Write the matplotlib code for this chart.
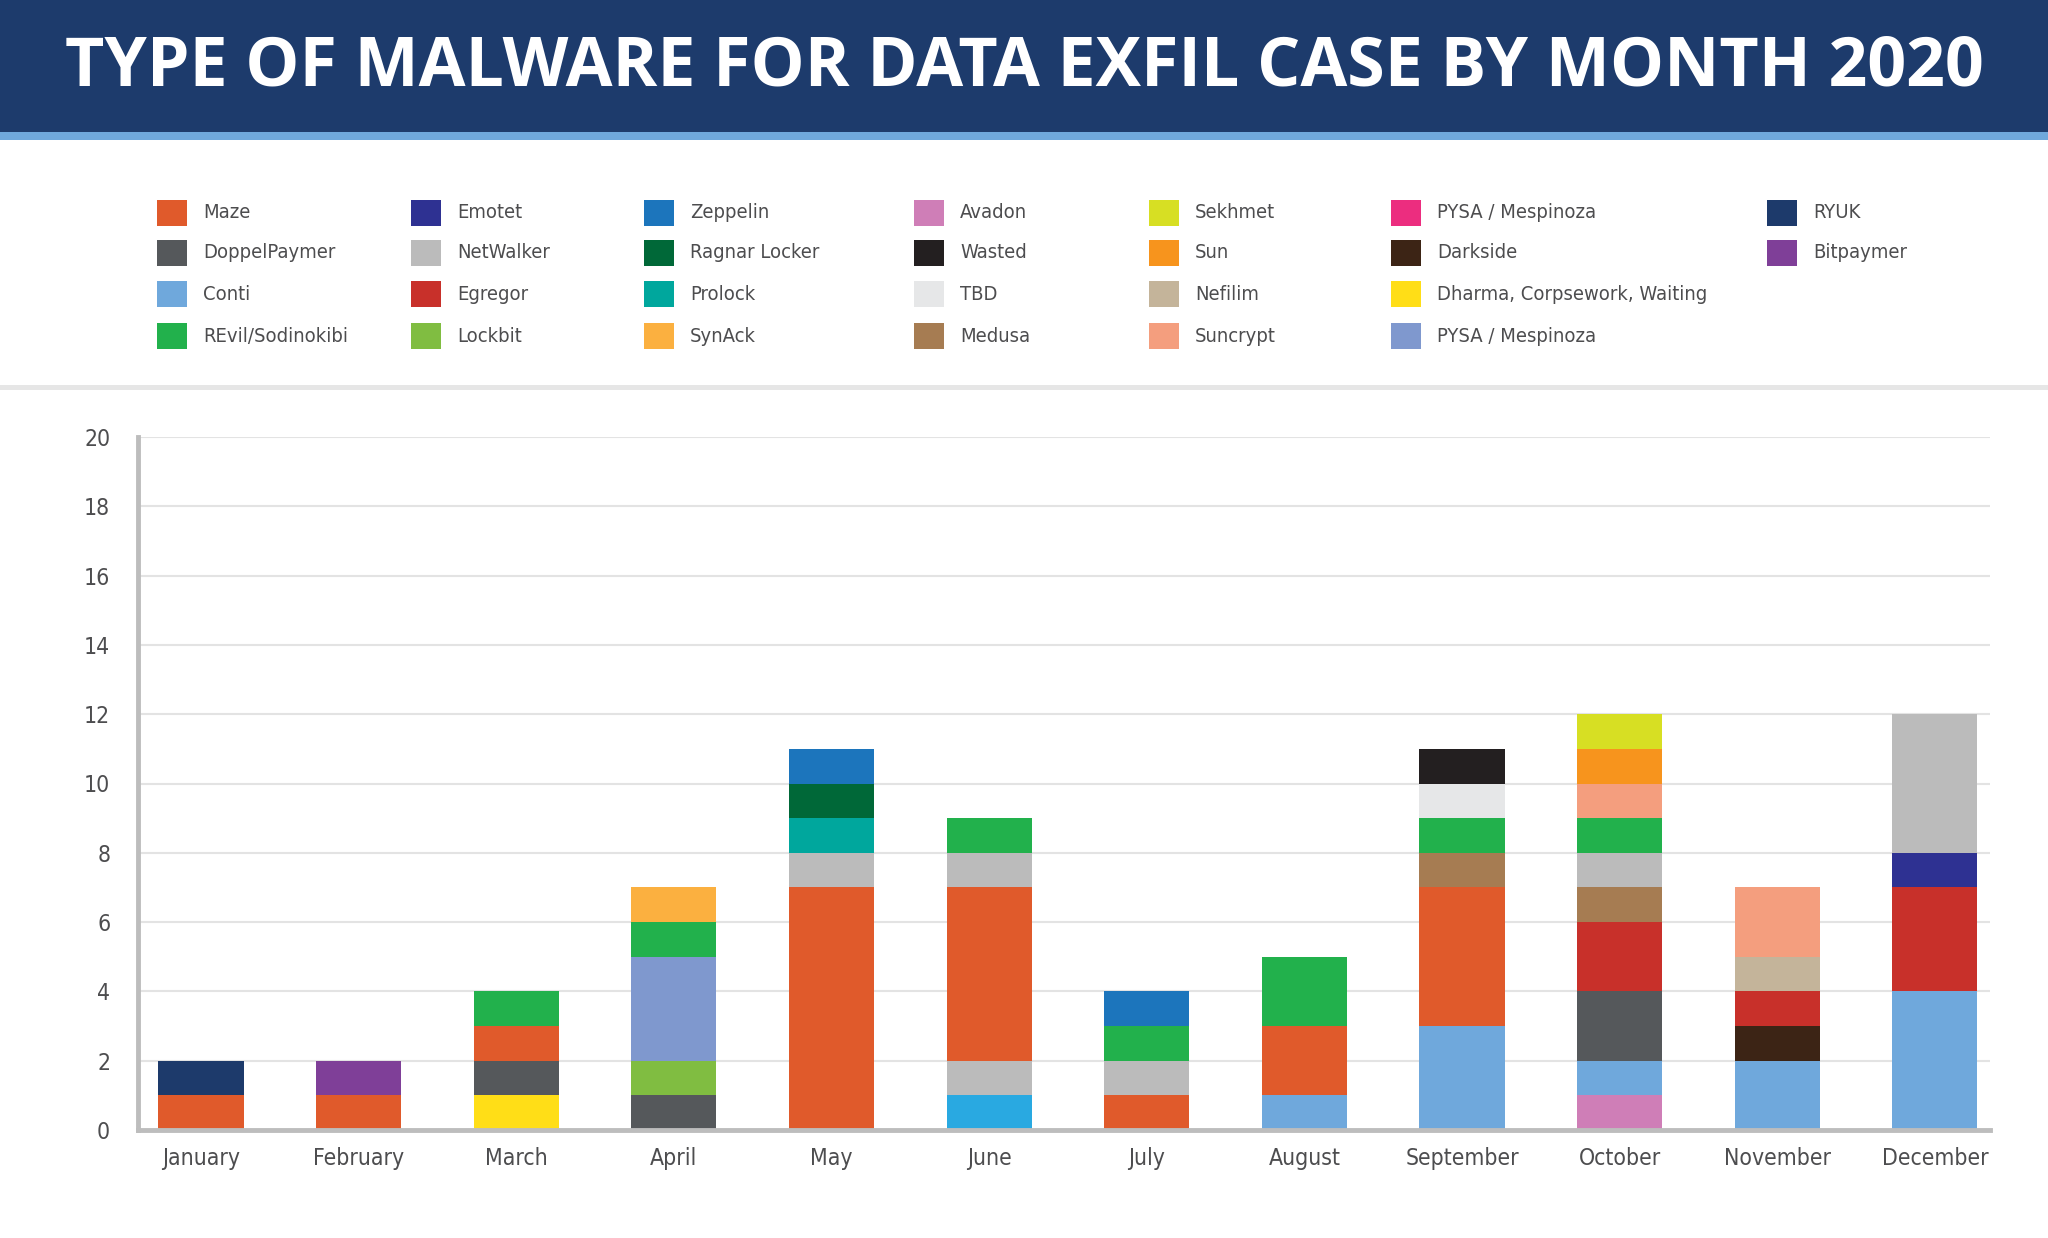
import matplotlib.pyplot as plt
from matplotlib.patches import Rectangle
from matplotlib import font_manager

# malware types (legend order, column by column) and their colours
malware = ["Maze", "DoppelPaymer", "Conti", "REvil/Sodinokibi",
           "Emotet", "NetWalker", "Egregor", "Lockbit",
           "Zeppelin", "Ragnar Locker", "Prolock", "SynAck",
           "Avadon", "Wasted", "TBD", "Medusa",
           "Sekhmet", "Sun", "Nefilim", "Suncrypt",
           "PYSA / Mespinoza", "Darkside", "Dharma, Corpsework, Waiting", "PYSA / Mespinoza ",
           "RYUK", "Bitpaymer"]
colors = ["#E05A2B", "#55585B", "#6FA8DC", "#22B14C",
          "#2E3192", "#BBBBBB", "#C8302A", "#80BD41",
          "#1C75BC", "#006838", "#00A79D", "#FBB040",
          "#CF7EB7", "#231F20", "#E6E7E8", "#A67C52",
          "#D7DF23", "#F7941D", "#C4B49A", "#F49E7E",
          "#EC2D7F", "#3C2415", "#FFDE17", "#7F98CE",
          "#1D3A6B", "#7F3F98"]
# one segment in June has a colour that is not in the legend
extra_name = "unlisted"
extra_color = "#29A9E1"

months = ["January", "February", "March", "April", "May", "June",
          "July", "August", "September", "October", "November", "December"]

# stacks, bottom to top: (malware, cases)
jan = [("Maze", 1), ("RYUK", 1)]
feb = [("Maze", 1), ("Bitpaymer", 1)]
mar = [("Dharma, Corpsework, Waiting", 1), ("DoppelPaymer", 1), ("Maze", 1), ("REvil/Sodinokibi", 1)]
apr = [("DoppelPaymer", 1), ("Lockbit", 1), ("PYSA / Mespinoza ", 3), ("REvil/Sodinokibi", 1), ("SynAck", 1)]
may = [("Maze", 7), ("NetWalker", 1), ("Prolock", 1), ("Ragnar Locker", 1), ("Zeppelin", 1)]
jun = [("unlisted", 1), ("NetWalker", 1), ("Maze", 5), ("NetWalker", 1), ("REvil/Sodinokibi", 1)]
jul = [("Maze", 1), ("NetWalker", 1), ("REvil/Sodinokibi", 1), ("Zeppelin", 1)]
aug = [("Conti", 1), ("Maze", 2), ("REvil/Sodinokibi", 2)]
sep = [("Conti", 3), ("Maze", 4), ("Medusa", 1), ("REvil/Sodinokibi", 1), ("TBD", 1), ("Wasted", 1)]
oct_ = [("Avadon", 1), ("Conti", 1), ("DoppelPaymer", 2), ("Egregor", 2), ("Medusa", 1),
        ("NetWalker", 1), ("REvil/Sodinokibi", 1), ("Suncrypt", 1), ("Sun", 1), ("Sekhmet", 1)]
nov = [("Conti", 2), ("Darkside", 1), ("Egregor", 1), ("Nefilim", 1), ("Suncrypt", 2)]
dec = [("Conti", 4), ("Egregor", 3), ("Emotet", 1), ("NetWalker", 4)]
stacks = [jan, feb, mar, apr, may, jun, jul, aug, sep, oct_, nov, dec]

yticks = list(range(0, 21, 2))

color_of = dict(zip(malware, colors))
color_of[extra_name] = extra_color

# a narrow face if one is installed, else Roboto
narrow_font = None
for f in font_manager.fontManager.ttflist:
    if ('Narrow' in f.name or 'Condensed' in f.fname) and f.weight in (400, 'normal') \
            and f.style == 'normal':
        narrow_font = f.fname
        break


def label_font(size):
    if narrow_font:
        return font_manager.FontProperties(fname=narrow_font, size=size)
    return font_manager.FontProperties(family='Roboto', size=size)


W, H = 2048, 1238
fig = plt.figure(figsize=(W / 100, H / 100), dpi=100, facecolor='white')

text_gray = '#4D4D4F'

# header band
fig.patches.append(Rectangle((0, 1 - 132 / H), 1, 132 / H, transform=fig.transFigure,
                             facecolor='#1D3B6C', edgecolor='none'))
fig.patches.append(Rectangle((0, 1 - 140 / H), 1, 8 / H, transform=fig.transFigure,
                             facecolor='#6FA8DC', edgecolor='none'))
fig.text(0.5, 1 - 67 / H, "TYPE OF MALWARE FOR DATA EXFIL CASE BY MONTH 2020",
         ha='center', va='center', color='white', fontsize=49,
         family=['Open Sans', 'DejaVu Sans'], weight='bold')

# separator under the legend
fig.patches.append(Rectangle((0, 1 - 390 / H), 1, 5 / H, transform=fig.transFigure,
                             facecolor='#E6E6E6', edgecolor='none'))

# legend, drawn by hand (uneven column widths)
col_x = [157, 411, 644, 914, 1149, 1391, 1767]
row_y = [213, 253, 294, 336]
for k, (name, c) in enumerate(zip(malware, colors)):
    col, row = divmod(k, 4)
    x0 = col_x[col]
    y0 = row_y[row]
    fig.patches.append(Rectangle((x0 / W, 1 - (y0 + 13) / H), 30 / W, 26 / H,
                                 transform=fig.transFigure, facecolor=c, edgecolor='none'))
    fig.text((x0 + 46) / W, 1 - y0 / H, name.strip(), ha='left', va='center',
             color=text_gray, fontproperties=label_font(14.5))

# chart
ax = fig.add_axes([138 / W, 108 / H, (1990 - 138) / W, (1130 - 437) / H])
for i, stack in enumerate(stacks):
    bottom = 0
    for name, n in stack:
        ax.bar(i, n, bottom=bottom, width=0.54, color=color_of[name], linewidth=0, zorder=3)
        bottom += n

ax.set_xlim(-0.40, 11.35)
ax.set_ylim(0, 20)
ax.set_yticks(yticks)
ax.set_xticks(range(len(months)))
ax.set_xticklabels(months)
ax.grid(axis='y', color='#E3E3E3', linewidth=1.5, zorder=0)
for s in ['top', 'right']:
    ax.spines[s].set_visible(False)
for s in ['left', 'bottom']:
    ax.spines[s].set_color('#BDBDBD')
    ax.spines[s].set_linewidth(3.5)
    ax.spines[s].set_zorder(4)
ax.tick_params(length=0)
ax.tick_params(axis='y', pad=20)
ax.tick_params(axis='x', pad=12)
for lab in ax.get_xticklabels() + ax.get_yticklabels():
    lab.set_fontproperties(label_font(16.5))
    lab.set_color(text_gray)

fig.savefig('out.png', dpi=100, facecolor='white')
